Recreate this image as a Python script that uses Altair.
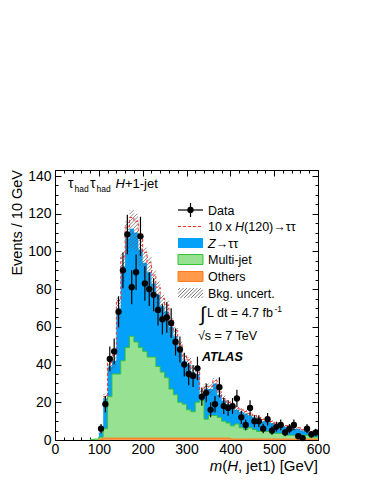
import math
import pandas as pd
import altair as alt

FONT = "Liberation Sans"

# ---------------- data (10 GeV bins, 0-600 GeV) ----------------
bin_low = list(range(0, 600, 10))

data_counts = [0, 0, 0, 0, 0, 0, 0, 0, 0, 0,
               6, 19, 43, 47, 68, 90, 109, 81, 89, 108,
               83, 80, 77, 69, 64, 65, 62, 52, 48, 40,
               35, 34, 38, 23, 25, 16, 19, 28, 18, 17,
               18, 22, 12, 8, 17, 10, 10, 6, 11, 5,
               7, 8, 4, 6, 8, 2, 1, 6, 3, 4]

others = [0, 0, 0, 0, 0, 0, 0, 0, 0, 0,
          0.5, 1, 1, 1, 1, 1, 1, 1, 1, 1,
          1, 1, 1, 1, 1, 1, 1, 1, 1, 1,
          1, 1, 1, 1, 1, 1, 1, 1, 1, 1,
          0.5, 0.5, 0.5, 0.5, 0.5, 0.5, 0.5, 0.5, 0.5, 0.5,
          0.5, 0.5, 0.5, 0.5, 0.5, 0.5, 0.5, 0.5, 0.5, 0.5]

multijet = [0, 0, 0, 0, 0, 0, 0, 0, 0.3, 0.5,
            1, 5, 22, 34, 34, 41, 48, 54, 51, 48,
            46, 43, 43, 38, 35, 32, 26, 23, 19, 18,
            15, 14, 19, 20, 10, 12, 12, 11, 9, 8,
            7, 8, 6, 5, 6, 5, 4, 5, 4, 3,
            3, 3, 3, 2, 2, 2, 2, 2, 1, 1]

ztautau = [0, 0, 0, 0, 0, 0, 0, 0, 0, 0,
           2.5, 16, 16, 7, 35, 50, 58, 57, 58, 52,
           47, 45, 39, 38, 35, 35, 33, 31, 28, 23,
           24, 21, 15, 3, 16, 14, 17, 12, 11, 10,
           10.5, 7.5, 8.5, 8.5, 6.5, 6.5, 6.5, 4.5, 5.5, 5.5,
           4.5, 4.5, 3.5, 4.5, 3.5, 3.5, 2.5, 2.5, 2.5, 2.5]

bkg_unc = [0, 0, 0, 0, 0, 0, 0, 0, 0, 0,
           0.5, 2.5, 4, 4, 6, 8, 9, 10, 10, 9,
           8, 8, 7, 7, 6, 6, 5, 5, 4.5, 4,
           4, 3.5, 3.5, 3, 3, 3, 3, 2.5, 2.5, 2,
           2, 2, 2, 2, 1.5, 1.5, 1.5, 1.5, 1.5, 1.5,
           1.5, 1.5, 1, 1, 1, 1, 1, 1, 1, 1]

signal_x10 = [0, 0, 0, 0, 0, 0, 0, 0, 0, 0,
              0, 1, 2, 3, 4, 5, 6, 6, 6, 6,
              5.5, 5, 4.5, 4, 4, 3.5, 3.5, 3, 3, 2.5,
              2.5, 2, 2, 2, 1.5, 1.5, 1.5, 1.5, 1, 1,
              1, 1, 1, 1, 1, 1, 1, 0.8, 0.8, 0.8,
              0.8, 0.6, 0.6, 0.6, 0.6, 0.5, 0.5, 0.5, 0.5, 0.5]

x_major = [0, 100, 200, 300, 400, 500, 600]
x_minor = list(range(0, 601, 20))
y_major = [0, 20, 40, 60, 80, 100, 120, 140]
y_minor = list(range(0, 144, 5))

# ---------------- layout ----------------
W, H = 263, 270
XMAX, YMAX = 600, 143.2
xs = alt.Scale(domain=[0, XMAX], nice=False, zero=False)
ys = alt.Scale(domain=[0, YMAX], nice=False, zero=False)

BLUE = "#03a1fa"
GREEN = "#97e292"
GREEN_LINE = "#36c236"
ORANGE = "#ff9a4a"
ORANGE_LINE = "#ff7a1a"
RED = "#ff2a2a"
HATCH = "#5a5a5a"

# ---------------- derived tables ----------------
n = len(bin_low)
o_top = [others[i] for i in range(n)]
mj_top = [others[i] + multijet[i] for i in range(n)]
tot = [mj_top[i] + ztautau[i] for i in range(n)]
sig_top = [tot[i] + signal_x10[i] for i in range(n)]

def ext(v):
    return list(v) + [v[-1]]

hist = pd.DataFrame({
    "x": bin_low + [600],
    "zero": [0] * (n + 1),
    "o_top": ext(o_top),
    "mj_top": ext(mj_top),
    "tot": ext(tot),
    "sig_top": ext(sig_top),
})

dpts = pd.DataFrame({
    "xc": [b + 5 for b in bin_low],
    "n": data_counts,
})
dpts = dpts[dpts["n"] > 0].copy()
dpts["lo"] = dpts["n"] - dpts["n"] ** 0.5
dpts["hi"] = dpts["n"] + dpts["n"] ** 0.5

# hatch lines (45 deg in screen space) filling the uncertainty band
px_gev = W / XMAX
px_unit = H / YMAX
slope = px_gev / px_unit
spacing = 3.6 / px_unit
hrows = []
for i in range(n):
    if bkg_unc[i] <= 0:
        continue
    lo = max(tot[i] - bkg_unc[i], 0)
    hi = tot[i] + bkg_unc[i]
    xl, xr = bin_low[i], bin_low[i] + 10
    kmin = math.ceil((lo - slope * xr) / spacing)
    kmax = math.floor((hi - slope * xl) / spacing)
    for k in range(kmin, kmax + 1):
        c = k * spacing
        xa = max(xl, (lo - c) / slope)
        xb = min(xr, (hi - c) / slope)
        if xb > xa:
            hrows.append({"x": xa, "y": slope * xa + c, "x2": xb, "y2": slope * xb + c})
hatch = pd.DataFrame(hrows)

dummy = pd.DataFrame({"x": [0], "y": [0]})

# ---------------- histogram layers ----------------
base = alt.Chart(hist)
X = alt.X("x:Q", scale=xs, axis=None)

a_others = base.mark_area(interpolate="step-after", color=ORANGE).encode(
    x=X, y=alt.Y("zero:Q", scale=ys, axis=None), y2="o_top:Q")
a_mj = base.mark_area(interpolate="step-after", color=GREEN).encode(
    x=X, y=alt.Y("o_top:Q", scale=ys, axis=None), y2="mj_top:Q")
a_z = base.mark_area(interpolate="step-after", color=BLUE).encode(
    x=X, y=alt.Y("mj_top:Q", scale=ys, axis=None), y2="tot:Q")
l_mj = base.transform_filter("datum.x >= 80").mark_line(
    interpolate="step-after", color=GREEN_LINE, strokeWidth=1).encode(
    x=X, y=alt.Y("mj_top:Q", scale=ys, axis=None))
l_o = base.transform_filter("datum.x >= 100").mark_line(
    interpolate="step-after", color=ORANGE_LINE, strokeWidth=1).encode(
    x=X, y=alt.Y("o_top:Q", scale=ys, axis=None))
l_hatch = alt.Chart(hatch).mark_rule(color=HATCH, strokeWidth=0.7).encode(
    x=alt.X("x:Q", scale=xs, axis=None), x2="x2:Q",
    y=alt.Y("y:Q", scale=ys, axis=None), y2="y2:Q")
l_sig = base.transform_filter("datum.x >= 110").mark_line(
    interpolate="step-after", color=RED, strokeWidth=1, strokeDash=[3, 2]).encode(
    x=X, y=alt.Y("sig_top:Q", scale=ys, axis=None))

err = alt.Chart(dpts).mark_rule(color="black", strokeWidth=1.2).encode(
    x=alt.X("xc:Q", scale=xs, axis=None),
    y=alt.Y("lo:Q", scale=ys, axis=None), y2="hi:Q")
pts = alt.Chart(dpts).mark_point(filled=True, shape="circle", size=40, color="black", opacity=1).encode(
    x=alt.X("xc:Q", scale=xs, axis=None),
    y=alt.Y("n:Q", scale=ys, axis=None))

# ---------------- axes ----------------
def tick_axis(orient, values, size):
    return alt.Axis(orient=orient, values=values, tickSize=size, offset=-size,
                    labels=False, domain=False, grid=False, title=None,
                    ticks=True, tickColor="black", tickWidth=1)

def axis_layer(xa, ya):
    return alt.Chart(dummy).mark_point(opacity=0).encode(
        x=alt.X("x:Q", scale=xs, axis=xa),
        y=alt.Y("y:Q", scale=ys, axis=ya))

lab_x = alt.Axis(orient="bottom", values=x_major, ticks=False, domain=False, grid=False,
                 labels=True, labelFont=FONT, labelFontSize=14, labelColor="black",
                 labelPadding=2, labelFlush=False, labelOverlap=False, format="d", title=None)
lab_y = alt.Axis(orient="left", values=y_major, ticks=False, domain=False, grid=False,
                 labels=True, labelFont=FONT, labelFontSize=14, labelColor="black",
                 labelPadding=4, labelFlush=False, labelOverlap=False, format="d", title=None)

axes = [
    axis_layer(lab_x, lab_y),
    axis_layer(tick_axis("bottom", x_major, 6), tick_axis("left", y_major, 6)),
    axis_layer(tick_axis("top", x_major, 6), tick_axis("right", y_major, 6)),
    axis_layer(tick_axis("bottom", x_minor, 3), tick_axis("left", y_minor, 3)),
    axis_layer(tick_axis("top", x_minor, 3), tick_axis("right", y_minor, 3)),
]

# ---------------- legend & text helpers ----------------
def txt(s, x, y, size=12.5, style="normal", weight="normal", align="left", angle=0):
    return alt.Chart(dummy).mark_text(
        text=s, font=FONT, fontSize=size, fontStyle=style, fontWeight=weight,
        align=align, baseline="alphabetic", angle=angle, color="black").encode(
        x=alt.value(x), y=alt.value(y))

def rect(x1, x2, y1, y2, fill, stroke=None):
    kw = {"fill": fill}
    if stroke:
        kw["stroke"] = stroke
        kw["strokeWidth"] = 1
    return alt.Chart(dummy).mark_rect(**kw).encode(
        x=alt.value(x1), x2=alt.value(x2), y=alt.value(y1), y2=alt.value(y2))

def rule(x1, x2, y1, y2, color="black", width=1.0, dash=None):
    kw = {"color": color, "strokeWidth": width}
    if dash:
        kw["strokeDash"] = dash
    return alt.Chart(dummy).mark_rule(**kw).encode(
        x=alt.value(x1), x2=alt.value(x2), y=alt.value(y1), y2=alt.value(y2))

LX1, LX2 = 123, 148
LXC = (LX1 + LX2) / 2
TX = 153
rows_y = [40, 56.5, 73, 89.5, 106.5, 123]

legend = [
    rule(LX1, LX2, rows_y[0], rows_y[0], width=1.2),
    rule(LXC, LXC, rows_y[0] - 7, rows_y[0] + 7, width=1.2),
    alt.Chart(dummy).mark_point(filled=True, shape="circle", size=40, color="black", opacity=1).encode(
        x=alt.value(LXC), y=alt.value(rows_y[0])),
    rule(LX1, LX2, rows_y[1], rows_y[1], color=RED, width=1, dash=[3, 2]),
    rect(LX1, LX2, rows_y[2] - 5, rows_y[2] + 5, BLUE),
    rect(LX1, LX2, rows_y[3] - 5, rows_y[3] + 5, GREEN, GREEN_LINE),
    rect(LX1, LX2, rows_y[4] - 5, rows_y[4] + 5, ORANGE, ORANGE_LINE),
]

# legend hatch box
hb_t, hb_b = rows_y[5] - 5, rows_y[5] + 5
for o in [-8, -4.5, -1, 2.5, 6, 9.5, 13, 16.5, 20, 23.5]:
    x0, y0 = LX1 + o, hb_b
    x1, y1 = x0 + (hb_b - hb_t), hb_t
    if x0 < LX1:
        d = LX1 - x0
        x0, y0 = LX1, y0 - d
    if x1 > LX2:
        d = x1 - LX2
        x1, y1 = LX2, y1 + d
    if x1 > x0:
        legend.append(rule(x0, x1, y0, y1, color=HATCH, width=0.8))

texts = [
    txt("Data", TX, rows_y[0] + 4.5),
    txt("10 x ", TX, rows_y[1] + 4.5),
    txt("H", TX + 27.1, rows_y[1] + 4.5, style="italic"),
    txt("(120)\u2192\u03c4\u03c4", TX + 36.1, rows_y[1] + 4.5),
    txt("Z", TX, rows_y[2] + 4.5, style="italic"),
    txt("\u2192\u03c4\u03c4", TX + 7.8, rows_y[2] + 4.5),
    txt("Multi-jet", TX, rows_y[3] + 4.5),
    txt("Others", TX, rows_y[4] + 4.5),
    txt("Bkg. uncert.", TX, rows_y[5] + 4.5),
    txt("\u222b", 145, 151, size=20),
    txt("L dt = 4.7 fb", 152, 147),
    txt("-1", 219.5, 142, size=8.5),
    txt("\u221as = 7 TeV", 143, 170),
    txt("ATLAS", 147, 190.5, style="italic", weight="bold"),
    # top-left channel label
    txt("\u03c4", 13, 18, size=14),
    txt("had", 19.5, 21.5, size=8.5),
    txt("\u03c4", 35, 18, size=14),
    txt("had", 41.5, 21.5, size=8.5),
    txt("H", 60.5, 18, size=13, style="italic"),
    txt("+1-jet", 69.9, 18, size=13),
    # axis titles
    txt("Events / 10 GeV", -33.5, 0, size=14.5, align="right", angle=270),
    txt("m", 154.7, 301, size=15, style="italic"),
    txt("(", 167.2, 301, size=15),
    txt("H", 172.2, 301, size=15, style="italic"),
    txt(", jet1) [GeV]", 183.0, 301, size=15),
]

layers = [a_others, a_mj, a_z, l_mj, l_o, l_hatch, l_sig, err, pts] + axes + legend + texts

chart = alt.layer(*layers).resolve_axis(x="independent", y="independent").properties(
    width=W, height=H,
    autosize=alt.AutoSizeParams(type="none"),
    padding={"left": 47, "top": 162, "right": 40, "bottom": 36},
    background="white",
).configure_view(stroke="black", strokeWidth=1)

chart.save("out.html", embed_options={"renderer": "svg", "actions": False})
